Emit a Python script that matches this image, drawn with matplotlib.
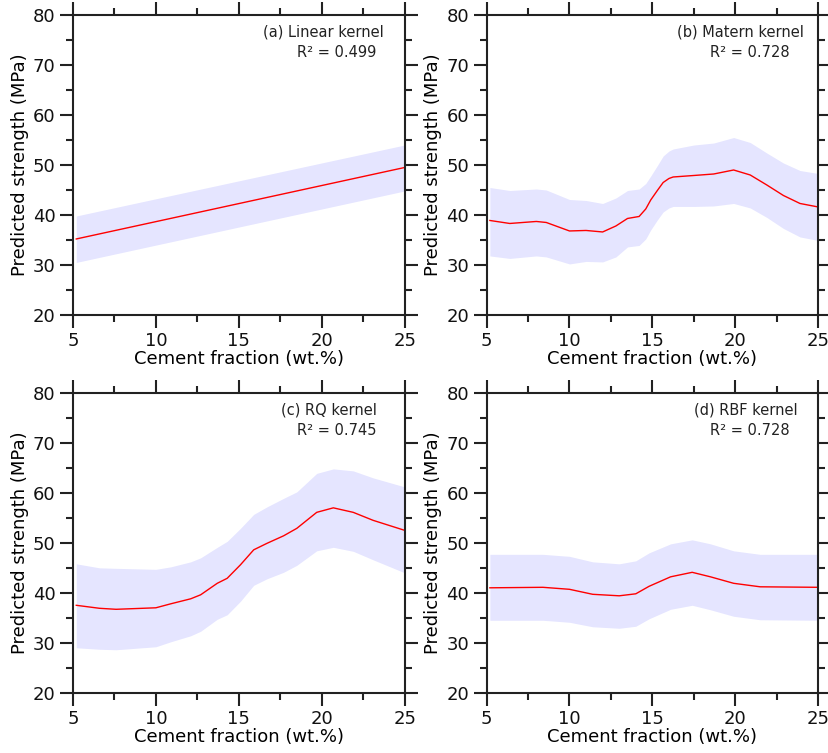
import matplotlib.pyplot as plt
from matplotlib.ticker import MultipleLocator

# (a) Linear kernel
lin_x = [5.2, 25]
lin_mean = [35.2, 49.5]
lin_lo = [30.5, 44.8]
lin_hi = [39.8, 54.0]

# (b) Matern kernel
mat_x = [5.2, 6.4, 8.0, 8.6, 10.0, 11.0, 12.0, 12.8, 13.5, 14.2, 14.6, 14.9, 15.3, 15.65,
         16.0, 16.25, 17.5, 18.7, 19.9, 20.9, 21.9, 22.9, 23.9, 25.0]
mat_mean = [38.9, 38.3, 38.7, 38.5, 36.8, 36.9, 36.6, 37.8, 39.3, 39.7, 41.2, 43.0, 44.9, 46.5,
            47.3, 47.6, 47.9, 48.2, 49.0, 48.0, 46.0, 43.9, 42.3, 41.6]
mat_hi = [45.5, 44.9, 45.2, 45.0, 43.1, 42.9, 42.3, 43.4, 44.9, 45.2, 46.3, 47.8, 49.9, 51.8,
          52.8, 53.2, 54.0, 54.4, 55.5, 54.5, 52.4, 50.4, 48.9, 48.3]
mat_lo = [31.8, 31.3, 31.8, 31.6, 30.2, 30.7, 30.6, 31.6, 33.6, 33.9, 35.2, 37.0, 39.0, 40.6,
          41.4, 41.7, 41.7, 41.8, 42.3, 41.4, 39.5, 37.3, 35.6, 34.9]

# (c) RQ kernel
rq_x = [5.2, 6.6, 7.6, 10.0, 10.9, 12.1, 12.7, 13.7, 14.3, 15.1, 15.9, 16.7,
        17.7, 18.5, 19.7, 20.7, 21.9, 23.1, 25.0]
rq_mean = [37.5, 36.9, 36.7, 37.0, 37.8, 38.8, 39.6, 41.9, 42.9, 45.6, 48.6, 49.9,
           51.4, 52.9, 56.1, 57.0, 56.1, 54.5, 52.5]
rq_hi = [45.8, 45.0, 44.9, 44.7, 45.2, 46.2, 47.0, 49.1, 50.3, 52.9, 55.7, 57.2,
         58.9, 60.2, 63.9, 64.8, 64.4, 63.0, 61.2]
rq_lo = [29.0, 28.7, 28.6, 29.2, 30.2, 31.4, 32.3, 34.7, 35.6, 38.3, 41.5, 42.8,
         44.1, 45.5, 48.4, 49.1, 48.3, 46.6, 44.0]

# (d) RBF kernel
rbf_x = [5.2, 8.4, 10.0, 11.4, 13.0, 14.0, 14.8, 16.1, 17.4, 18.5, 19.9, 21.5, 25.0]
rbf_mean = [41.0, 41.1, 40.7, 39.7, 39.4, 39.8, 41.3, 43.2, 44.1, 43.2, 41.9, 41.2, 41.1]
rbf_hi = [47.7, 47.7, 47.3, 46.2, 45.8, 46.4, 48.0, 49.8, 50.6, 49.8, 48.4, 47.7, 47.7]
rbf_lo = [34.5, 34.5, 34.1, 33.2, 32.9, 33.3, 34.8, 36.7, 37.5, 36.6, 35.3, 34.6, 34.5]

titles = ["(a) Linear kernel", "(b) Matern kernel", "(c) RQ kernel", "(d) RBF kernel"]
r2_labels = ["R² = 0.499", "R² = 0.728", "R² = 0.745", "R² = 0.728"]

panels = [
    (lin_x, lin_mean, lin_lo, lin_hi),
    (mat_x, mat_mean, mat_lo, mat_hi),
    (rq_x, rq_mean, rq_lo, rq_hi),
    (rbf_x, rbf_mean, rbf_lo, rbf_hi),
]
# left edge of the first annotation line, in axes fraction
title_x = [0.572, 0.575, 0.627, 0.624]

fig, axes = plt.subplots(2, 2, figsize=(8.29, 7.53), dpi=100)
fig.subplots_adjust(left=0.088, right=0.987, bottom=0.080, top=0.980,
                    wspace=0.247, hspace=0.26)

for i, ax in enumerate(axes.flat):
    x, mean, lo, hi = panels[i]
    ax.fill_between(x, lo, hi, color="blue", alpha=0.1, linewidth=0)
    ax.plot(x, mean, color="red", linewidth=1)

    ax.set_xlim(5, 25)
    ax.set_ylim(20, 80)
    ax.xaxis.set_major_locator(MultipleLocator(5))
    ax.xaxis.set_minor_locator(MultipleLocator(2.5))
    ax.yaxis.set_major_locator(MultipleLocator(10))
    ax.yaxis.set_minor_locator(MultipleLocator(5))
    ax.tick_params(which="both", direction="out", top=True, right=True,
                   width=1.5, color="#222222", labelsize=13, labelcolor="#111111")
    ax.tick_params(which="major", length=9.5, pad=3)
    ax.tick_params(which="minor", length=5)
    for sp in ax.spines.values():
        sp.set_linewidth(1.5)
        sp.set_color("#222222")

    ax.set_xlabel("Cement fraction (wt.%)", fontsize=13, labelpad=0)
    ax.set_ylabel("Predicted strength (MPa)", fontsize=13, labelpad=3)

    ax.text(title_x[i], 0.968, titles[i], transform=ax.transAxes,
            fontsize=10.5, color="#222222", ha="left", va="top")
    ax.text(0.675, 0.900, r2_labels[i], transform=ax.transAxes,
            fontsize=10.5, color="#222222", ha="left", va="top")

fig.savefig("out.png", dpi=100)
